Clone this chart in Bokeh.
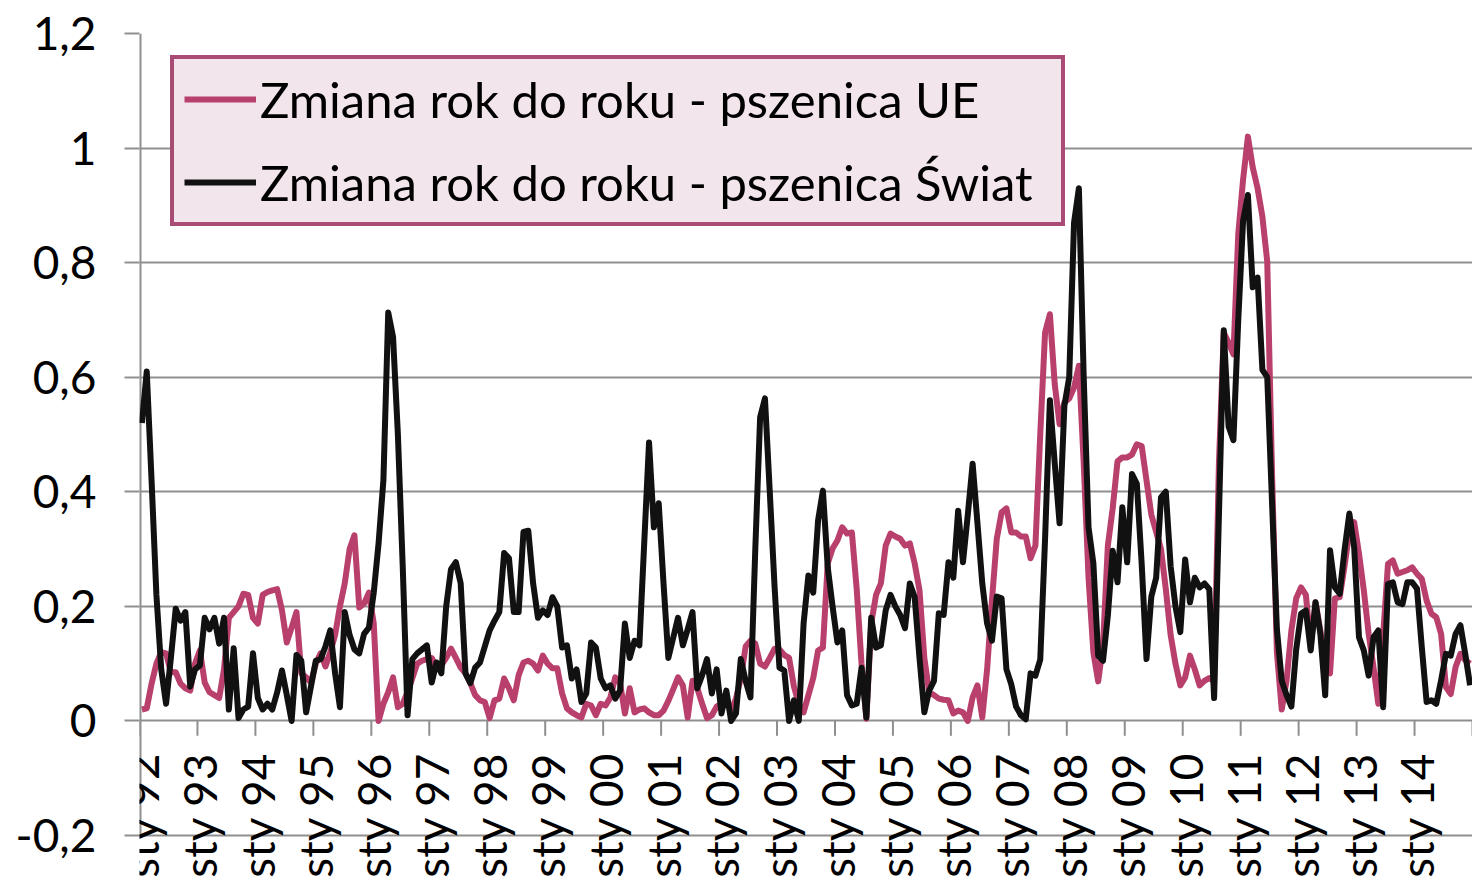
from bokeh.plotting import figure
from bokeh.models import (Range1d, FixedTicker, CustomJSTickFormatter, Legend,
                          LegendItem, Label)
from bokeh.embed import file_html
from bokeh.resources import INLINE

# ---------------- data ----------------
year_labels = ["92", "93", "94", "95", "96", "97", "98", "99", "00", "01", "02", "03",
               "04", "05", "06", "07", "08", "09", "10", "11", "12", "13", "14"]
months_per_year = 12

series_names = ["Zmiana rok do roku - pszenica UE",
                "Zmiana rok do roku - pszenica Świat"]

# year-over-year change, EU wheat (monthly, Jan 1992 - Dec 2014)
wheat_eu = [
    0.020, 0.022, 0.065, 0.100, 0.120, 0.118, 0.085, 0.085, 0.065, 0.057, 0.053, 0.100,
    0.123, 0.067, 0.050, 0.045, 0.040, 0.090, 0.180, 0.190, 0.200, 0.222, 0.220, 0.180,
    0.170, 0.220, 0.225, 0.228, 0.230, 0.193, 0.137, 0.163, 0.190, 0.083, 0.076, 0.067,
    0.100, 0.118, 0.095, 0.120, 0.150, 0.200, 0.240, 0.300, 0.324, 0.198, 0.205, 0.224,
    0.170, 0.000, 0.030, 0.050, 0.076, 0.024, 0.030, 0.050, 0.075, 0.100, 0.105, 0.108,
    0.110, 0.093, 0.097, 0.110, 0.126, 0.110, 0.093, 0.083, 0.066, 0.045, 0.036, 0.033,
    0.005, 0.036, 0.039, 0.074, 0.057, 0.036, 0.080, 0.102, 0.105, 0.100, 0.088, 0.114,
    0.100, 0.092, 0.092, 0.048, 0.022, 0.015, 0.010, 0.006, 0.030, 0.027, 0.010, 0.030,
    0.027, 0.041, 0.076, 0.066, 0.013, 0.057, 0.015, 0.020, 0.022, 0.015, 0.010, 0.010,
    0.018, 0.035, 0.055, 0.076, 0.062, 0.006, 0.070, 0.057, 0.030, 0.005, 0.010, 0.025,
    0.030, 0.036, 0.018, 0.039, 0.075, 0.130, 0.140, 0.135, 0.100, 0.095, 0.110, 0.126,
    0.125, 0.115, 0.110, 0.060, 0.030, 0.015, 0.045, 0.075, 0.123, 0.128, 0.275, 0.301,
    0.315, 0.338, 0.327, 0.329, 0.230, 0.100, 0.004, 0.170, 0.220, 0.240, 0.306, 0.327,
    0.322, 0.318, 0.306, 0.310, 0.275, 0.228, 0.110, 0.050, 0.045, 0.039, 0.037, 0.036,
    0.013, 0.018, 0.015, 0.000, 0.041, 0.062, 0.006, 0.090, 0.210, 0.318, 0.364, 0.371,
    0.329, 0.329, 0.322, 0.322, 0.284, 0.306, 0.500, 0.678, 0.710, 0.588, 0.518, 0.556,
    0.563, 0.582, 0.620, 0.450, 0.250, 0.120, 0.069, 0.133, 0.306, 0.371, 0.453, 0.460,
    0.460, 0.465, 0.483, 0.480, 0.420, 0.360, 0.330, 0.300, 0.230, 0.150, 0.100, 0.062,
    0.076, 0.114, 0.090, 0.062, 0.070, 0.075, 0.069, 0.450, 0.678, 0.660, 0.640, 0.850,
    0.945, 1.020, 0.966, 0.930, 0.880, 0.802, 0.430, 0.120, 0.020, 0.070, 0.158, 0.214,
    0.233, 0.220, 0.131, 0.207, 0.158, 0.085, 0.083, 0.214, 0.216, 0.270, 0.330, 0.347,
    0.292, 0.228, 0.152, 0.094, 0.030, 0.150, 0.274, 0.280, 0.257, 0.260, 0.263, 0.268,
    0.257, 0.248, 0.210, 0.187, 0.181, 0.152, 0.059, 0.047, 0.094, 0.117, 0.106, 0.100,
]

# year-over-year change, world wheat
wheat_world = [
    0.520, 0.610, 0.420, 0.220, 0.090, 0.030, 0.110, 0.196, 0.175, 0.190, 0.060, 0.090,
    0.097, 0.180, 0.160, 0.180, 0.135, 0.180, 0.020, 0.127, 0.005, 0.020, 0.025, 0.118,
    0.040, 0.020, 0.030, 0.020, 0.050, 0.088, 0.045, 0.000, 0.115, 0.105, 0.015, 0.060,
    0.105, 0.108, 0.130, 0.158, 0.083, 0.024, 0.190, 0.150, 0.125, 0.118, 0.152, 0.163,
    0.224, 0.310, 0.420, 0.713, 0.670, 0.500, 0.270, 0.010, 0.108, 0.118, 0.125, 0.132,
    0.067, 0.102, 0.083, 0.200, 0.265, 0.277, 0.240, 0.083, 0.066, 0.093, 0.102, 0.130,
    0.158, 0.175, 0.190, 0.293, 0.284, 0.190, 0.190, 0.330, 0.332, 0.240, 0.180, 0.193,
    0.185, 0.216, 0.200, 0.128, 0.132, 0.074, 0.090, 0.033, 0.048, 0.137, 0.128, 0.074,
    0.057, 0.062, 0.039, 0.053, 0.170, 0.110, 0.140, 0.132, 0.310, 0.486, 0.338, 0.380,
    0.240, 0.110, 0.145, 0.180, 0.132, 0.160, 0.190, 0.057, 0.080, 0.108, 0.048, 0.090,
    0.013, 0.053, 0.000, 0.013, 0.108, 0.070, 0.041, 0.300, 0.530, 0.563, 0.400, 0.233,
    0.093, 0.088, 0.000, 0.036, 0.000, 0.170, 0.254, 0.224, 0.350, 0.402, 0.268, 0.200,
    0.137, 0.158, 0.045, 0.027, 0.030, 0.093, 0.006, 0.180, 0.128, 0.132, 0.193, 0.220,
    0.200, 0.185, 0.162, 0.240, 0.216, 0.110, 0.015, 0.053, 0.070, 0.188, 0.185, 0.277,
    0.250, 0.367, 0.277, 0.360, 0.449, 0.345, 0.240, 0.170, 0.140, 0.217, 0.214, 0.090,
    0.064, 0.025, 0.010, 0.003, 0.083, 0.079, 0.107, 0.318, 0.560, 0.450, 0.345, 0.550,
    0.600, 0.870, 0.930, 0.600, 0.338, 0.275, 0.114, 0.105, 0.184, 0.297, 0.242, 0.373,
    0.277, 0.431, 0.414, 0.275, 0.108, 0.217, 0.250, 0.390, 0.400, 0.270, 0.200, 0.155,
    0.282, 0.207, 0.250, 0.233, 0.240, 0.230, 0.040, 0.360, 0.682, 0.514, 0.490, 0.700,
    0.873, 0.918, 0.757, 0.774, 0.613, 0.600, 0.380, 0.160, 0.070, 0.045, 0.025, 0.125,
    0.187, 0.193, 0.123, 0.207, 0.152, 0.045, 0.298, 0.233, 0.222, 0.298, 0.362, 0.303,
    0.146, 0.123, 0.079, 0.146, 0.158, 0.024, 0.239, 0.242, 0.207, 0.204, 0.242, 0.242,
    0.231, 0.129, 0.033, 0.036, 0.030, 0.071, 0.117, 0.114, 0.152, 0.167, 0.117, 0.062,
]

y_ticks = [-0.2, 0.0, 0.2, 0.4, 0.6, 0.8, 1.0, 1.2]

# ---------------- styling ----------------
FONT = "Lato"
PINK = "#b9406c"
BLACK = "#111111"
GRID = "#8f8f8f"

W, H = 1472, 881
LEFT, TOP = 139, 33
PX_PER_UNIT = (835 - 33) / (y_ticks[-1] - y_ticks[0])
y_bottom = y_ticks[0] - (H - 835) / PX_PER_UNIT   # frame runs to the page bottom

n = len(wheat_eu)
x = [i + 0.5 for i in range(n)]

p = figure(width=W, height=H, output_backend="svg", toolbar_location=None,
           x_range=Range1d(0, n), y_range=Range1d(y_bottom, y_ticks[-1]),
           min_border_left=LEFT, min_border_right=0, min_border_top=TOP,
           min_border_bottom=0)
p.outline_line_color = None
p.background_fill_color = "white"
p.border_fill_color = "white"

p.xaxis.visible = False
p.xgrid.visible = False

p.ygrid.ticker = FixedTicker(ticks=y_ticks)
p.ygrid.grid_line_color = GRID
p.ygrid.grid_line_width = 2

yax = p.yaxis[0]
yax.ticker = FixedTicker(ticks=y_ticks)
yax.formatter = CustomJSTickFormatter(
    code="return (Math.round(tick*10)/10).toString().replace('.', ',');")
yax.axis_line_color = None
yax.major_tick_line_color = GRID
yax.major_tick_line_width = 2
yax.major_tick_out = 15
yax.major_tick_in = 0
yax.minor_tick_line_color = None
yax.major_label_standoff = 28
yax.major_label_text_font = FONT
yax.major_label_text_font_size = "46px"
yax.major_label_text_color = "black"

# vertical axis line, only between -0.2 and 1.2
p.segment(x0=[0], y0=[y_ticks[0]], x1=[0], y1=[y_ticks[-1]],
          line_color=GRID, line_width=4)

# category-style x axis drawn along y = 0
year_starts = [k * months_per_year for k in range(len(year_labels) + 1)]
p.segment(x0=year_starts, y0=[0] * len(year_starts), x1=year_starts,
          y1=[-0.026] * len(year_starts), line_color=GRID, line_width=2)

for k, yl in enumerate(year_labels):
    p.add_layout(Label(x=k * months_per_year + 0.5, y=-0.055, text="sty " + yl,
                       angle=90, angle_units="deg", text_align="right",
                       text_baseline="middle", text_font=FONT,
                       text_font_size="46px", text_color="black"))

r_eu = p.line(x, wheat_eu, line_color=PINK, line_width=6, line_join="round")
r_world = p.line(x, wheat_world, line_color=BLACK, line_width=6, line_join="round")

legend = Legend(items=[LegendItem(label=series_names[0], renderers=[r_eu]),
                       LegendItem(label=series_names[1], renderers=[r_world])],
                location=(31, 655), orientation="vertical",
                label_text_font=FONT, label_text_font_size="49px",
                label_text_color="black", label_text_baseline="middle",
                glyph_width=72, glyph_height=60, label_height=60,
                label_standoff=4, label_width=791, spacing=23, padding=10,
                border_line_color="#a84c75", border_line_width=4,
                border_line_alpha=1.0,
                background_fill_color="#f3e5ec", background_fill_alpha=1.0,
                margin=0)
p.add_layout(legend, "center")

open("out.html", "w").write(file_html(p, INLINE))
